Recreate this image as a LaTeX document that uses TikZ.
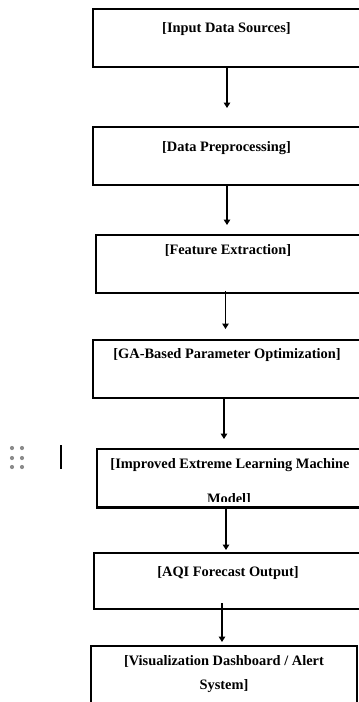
\documentclass[tikz,border=0pt]{standalone}
\usepackage{fontspec}
\setmainfont{Liberation Serif}
\usetikzlibrary{arrows.meta,fit}
\tikzset{
  box/.style={draw=black, line width=2.2pt, inner sep=0pt, fill=none},
  lbl/.style={font=\bfseries\fontsize{14.4}{25}\selectfont, inner sep=0pt, align=center},
  arr/.style={line width=1.8pt, -{Triangle[length=5.5pt,width=6.5pt]}},
  dot/.style={fill=black!45, draw=none},
}
\begin{document}
\begin{tikzpicture}[x=1pt,y=-1pt]
\useasboundingbox (0,0) rectangle (359,702);
\clip (0,0) rectangle (359,702);
% boxes
\node[box, fit={(93,9) (375,67)}] (b1) {};
\node[box, fit={(93,127) (375,185)}] (b2) {};
\node[box, fit={(96,235) (375,293)}] (b3) {};
\node[box, fit={(93,340) (375,398)}] (b4) {};
\node[box, fit={(97,449) (375,507.5)}] (b5) {};
\node[box, fit={(94,553) (375,609)}] (b6) {};
\node[box, fit={(91,646) (357,725)}] (b7) {};
% labels
\node[lbl] (t1) at (226.5,29) {[Input Data Sources]};
\node[lbl] (t2) at (226.5,148) {[Data Preprocessing]};
\node[lbl] (t3) at (228,250) {[Feature Extraction]};
\node[lbl] (t4) at (227,355) {[GA-Based Parameter Optimization]};
\begin{scope}
\clip (98,450) rectangle (374,501);
\node[lbl, anchor=base] (t5a) at (230,468) {[Improved Extreme Learning Machine};
\node[lbl, anchor=base] (t5b) at (229,503) {Model]};
\end{scope}
\node[lbl] (t6) at (228,573) {[AQI Forecast Output]};
\node[lbl] (t7a) at (224,661) {[Visualization Dashboard / Alert};
\node[lbl] (t7b) at (224,686) {System]};
% arrow tips
\coordinate (e1) at (227,108);
\coordinate (e2) at (227,225);
\coordinate (e3) at (225.5,329);
\coordinate (e4) at (224,439);
\coordinate (e5) at (226,550);
\coordinate (e6) at (222,642);
\draw[arr] (b1.south -| e1) -- (e1);
\draw[arr] (b2.south -| e2) -- (e2);
\draw[arr] ([yshift=3pt]b3.south -| e3) -- (e3);
\draw[arr] (b4.south -| e4) -- (e4);
\draw[arr] (b5.south -| e5) -- (e5);
\draw[arr] ([yshift=7pt]b6.south -| e6) -- (e6);
% side icon
\foreach \i/\px/\py in {1/12/448, 2/22/448, 3/12/458, 4/22/458, 5/12/467, 6/22/467}
  \fill[dot] (\px,\py) circle (2.1pt);
\coordinate (bar1) at (61,445);
\coordinate (bar2) at (61,469);
\draw[line width=2pt] (bar1) -- (bar2);
\end{tikzpicture}
\end{document}
